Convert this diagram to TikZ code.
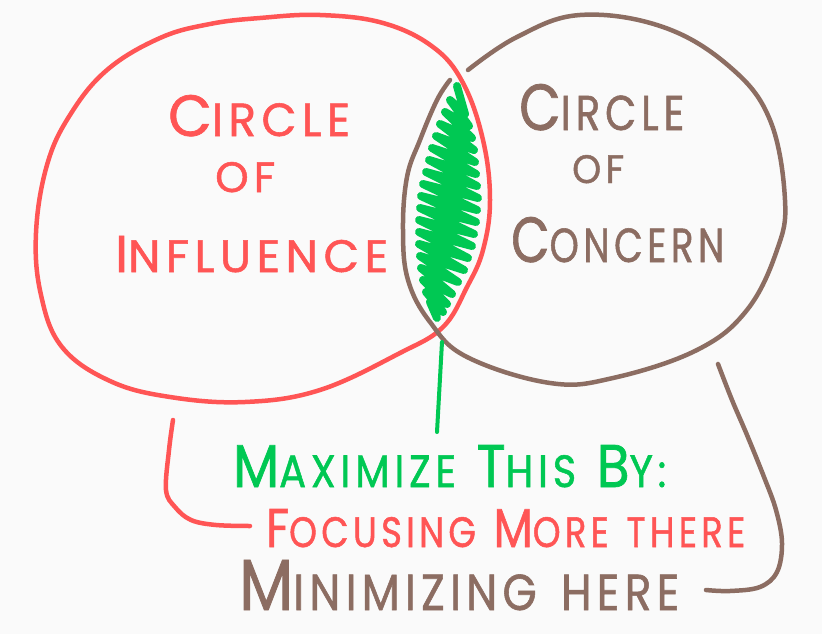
\documentclass[tikz,border=0pt]{standalone}
\usepackage{fontspec}
\setmainfont{Poppins}
\usepackage{graphicx}
\definecolor{inkred}{HTML}{FF5555}
\definecolor{inkbrown}{HTML}{8C6D62}
\definecolor{inkgreen}{HTML}{00C853}
\definecolor{paper}{HTML}{FAFAFA}
% big initial letter followed by smaller capitals
\newcommand\initcap[3]{#2\scalebox{#1}{#3}}
% set a line of lettering into a box of given width and cap height (pt)
\newcommand\fitline[3]{\resizebox{#1pt}{#2pt}{#3}}
\tikzset{
  ink/.style={line width=4.5pt, line cap=round, line join=round},
  lettering/.style={inner sep=0pt, anchor=base west,
    font=\addfontfeature{LetterSpace=12, FakeBold=1.2}},
}
\begin{document}
\begin{tikzpicture}[x=1pt, y=-1pt]
  \fill[paper] (0,0) rectangle (822,634);
  \useasboundingbox (0,0) rectangle (822,634);

  % circle of influence
  \draw[ink, inkred] plot[smooth cycle, tension=0.65] coordinates {
    (260,18) (320,15) (383,23) (433,47) (463,83) (483,140) (490,200)
    (483,250) (467,287) (443,327) (400,353) (320,390) (245,402) (170,397)
    (110,381) (62,347) (41,295) (36,233) (47,165) (70,115) (107,70)
    (160,38) (210,24)};

  % circle of concern (open near the top of the overlap)
  \draw[ink, inkbrown] plot[smooth, tension=0.65] coordinates {
    (468,70) (517,37) (580,15) (663,27) (730,67) (770,120) (785,200)
    (777,250) (747,310) (697,350) (613,378) (550,383) (467,357) (430,322)
    (408,280) (403,230) (407,177) (420,140) (437,100) (450,80)};

  % scribbled fill of the overlap
  \draw[inkgreen, line width=8pt, line cap=round, line join=round]
    (457,86) -- (465,114) -- (450,100) -- (469,126) -- (445,112) -- (472,138)
    -- (440,124) -- (474,150) -- (436,136) -- (475,162) -- (432,148) -- (476,174)
    -- (429,160) -- (477,186) -- (426,172) -- (478,198) -- (423,184) -- (477,210)
    -- (421,196) -- (476,222) -- (420,208) -- (474,234) -- (419,220) -- (472,246)
    -- (419,232) -- (468,258) -- (419,244) -- (464,270) -- (420,256) -- (458,282)
    -- (421,268) -- (452,294) -- (423,280) -- (447,304) -- (426,292) -- (443,312)
    -- (430,302) -- (437,318);

  % pointer from the overlap to the caption
  \coordinate (lensfoot) at (442,342);
  \coordinate (stemend) at (437,432);
  \draw[inkgreen, line width=4pt, line cap=round] (lensfoot) -- (stemend);

  % brackets
  \draw[ink, inkred] plot[smooth, tension=0.6] coordinates {
    (173,420) (169,450) (166,490) (175,507) (191,520) (216,525) (250,526)};
  \draw[ink, inkbrown] plot[smooth, tension=0.6] coordinates {
    (718,364) (732,400) (747,435) (764,477) (776,510) (782,543) (777,572)
    (760,587) (730,591) (706,590)};

  % lettering inside the circles
  \node[lettering, text=inkred] (inflA) at (168,136) {\fitline{182}{41}{\initcap{0.8}{C}{IRCLE}}};
  \node[lettering, text=inkred] (inflB) at (215,192) {\fitline{60}{30}{OF}};
  \node[lettering, text=inkred] (inflC) at (115,272) {\fitline{273}{36}{\initcap{0.88}{I}{NFLUENCE}}};
  \node[lettering, text=inkbrown] (concA) at (519,130) {\fitline{165}{46}{\initcap{0.75}{C}{IRCLE}}};
  \node[lettering, text=inkbrown] (concB) at (572,183) {\fitline{52}{28}{OF}};
  \node[lettering, text=inkbrown] (concC) at (511,262) {\fitline{213}{45}{\initcap{0.75}{C}{ONCERN}}};

  % caption
  \node[lettering, text=inkgreen] (capA) at (233,487) {\fitline{433}{42}{\initcap{0.75}{M}{AXIMIZE} \initcap{0.75}{T}{HIS} \initcap{0.75}{B}{Y:}}};
  \node[lettering, text=inkred] (capB) at (266,547) {\fitline{479}{38}{\initcap{0.78}{F}{OCUSING} \initcap{0.78}{M}{ORE} \scalebox{0.78}{THERE}}};
  \node[lettering, text=inkbrown] (capC) at (239,610) {\fitline{440}{50}{\initcap{0.7}{M}{INIMIZING} \scalebox{0.7}{HERE}}};
\end{tikzpicture}
\end{document}
